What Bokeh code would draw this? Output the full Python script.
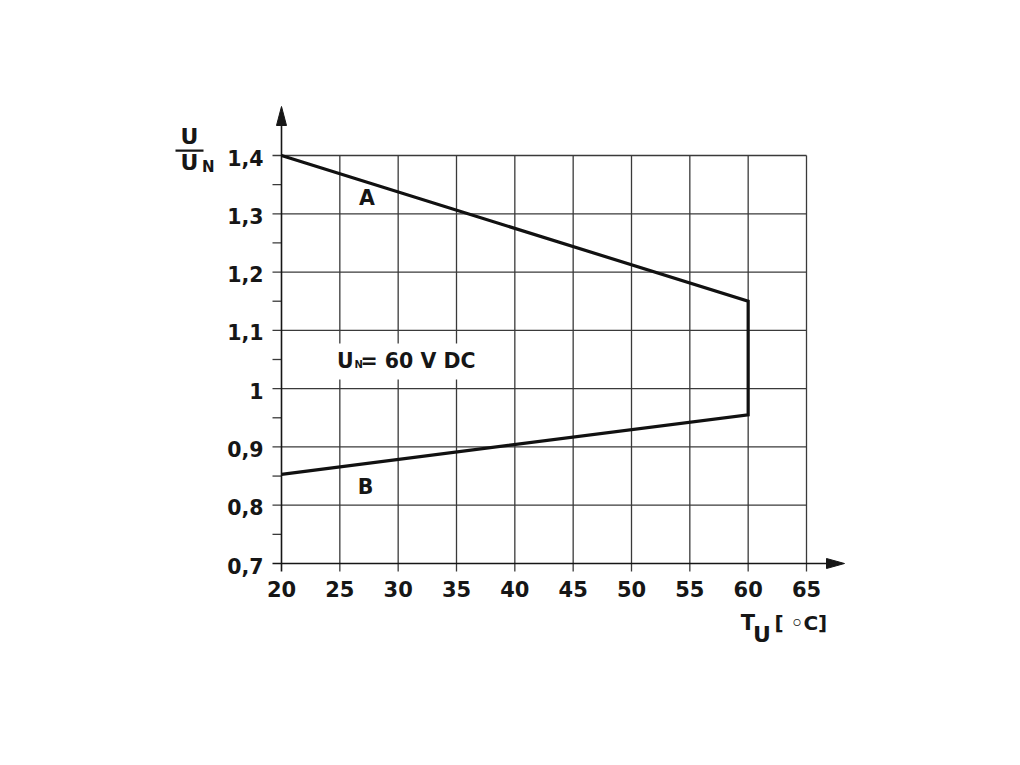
from bokeh.plotting import figure
from bokeh.models import Range1d
from bokeh.core.properties import value
from bokeh.embed import file_html
from bokeh.resources import INLINE

# ---- data ----
x_ticks = [20, 25, 30, 35, 40, 45, 50, 55, 60, 65]
x_tick_labels = ["20", "25", "30", "35", "40", "45", "50", "55", "60", "65"]
y_ticks = [0.7, 0.8, 0.9, 1.0, 1.1, 1.2, 1.3, 1.4]
y_minor = [0.75, 0.85, 0.95, 1.05, 1.15, 1.25, 1.35]
y_tick_labels = ["0,7", "0,8", "0,9", "1", "1,1", "1,2", "1,3", "1,4"]
curve_a_t = [20, 60]
curve_a_u = [1.40, 1.15]
curve_b_t = [20, 60]
curve_b_u = [0.853, 0.955]

FONT = value("DejaVu Sans")
INK = "#161616"
GRID = "#3a3a3a"

W, H = 1004, 749
# pixel geometry of the plot box (canvas pixels)
PX_L, PX_R = 281.0, 806.0        # x = 20 .. 65
PY_T, PY_B = 155.0, 563.0        # y = 1.4 .. 0.7
XMIN, XMAX = min(x_ticks), max(x_ticks)
YMIN, YMAX = min(y_ticks), max(y_ticks)
KX = (PX_R - PX_L) / (XMAX - XMIN)   # px per unit
KY = (PY_B - PY_T) / (YMAX - YMIN)

def X(px):
    return XMIN + (px - PX_L) / KX

def Y(py):
    return YMAX - (py - PY_T) / KY

p = figure(width=W, height=H, output_backend="svg", toolbar_location=None,
           x_range=Range1d(X(0), X(W)), y_range=Range1d(Y(H), Y(0)),
           min_border_left=0, min_border_right=0, min_border_top=0, min_border_bottom=0)
p.outline_line_color = None
p.xaxis.visible = False
p.yaxis.visible = False
p.xgrid.visible = False
p.ygrid.visible = False
p.background_fill_color = "white"
p.border_fill_color = "white"

# grid (vertical lines reach slightly below the x axis, horizontal slightly left of y axis)
p.segment(x0=x_ticks[1:], y0=[Y(PY_B + 8)] * (len(x_ticks) - 1), x1=x_ticks[1:],
          y1=[YMAX] * (len(x_ticks) - 1), line_color=GRID, line_width=1.3)
p.segment(x0=[X(PX_L - 9)] * (len(y_ticks) - 1), y0=y_ticks[1:],
          x1=[XMAX] * (len(y_ticks) - 1), y1=y_ticks[1:], line_color=GRID, line_width=1.3)
# minor ticks on y axis
p.segment(x0=[X(PX_L - 9)] * len(y_minor), y0=y_minor, x1=[XMIN] * len(y_minor), y1=y_minor,
          line_color=GRID, line_width=1.3)

# axes with arrows
p.segment(x0=[X(PX_L - 9)], y0=[YMIN], x1=[X(828)], y1=[YMIN], line_color=INK, line_width=1.6)
p.segment(x0=[XMIN], y0=[Y(PY_B + 8)], x1=[XMIN], y1=[Y(124)], line_color=INK, line_width=1.6)
p.patch(x=[X(826), X(844), X(826)], y=[Y(PY_B - 5), YMIN, Y(PY_B + 5)],
        fill_color=INK, line_color=INK, line_width=1)
p.patch(x=[X(PX_L - 5), XMIN, X(PX_L + 5)], y=[Y(125), Y(106), Y(125)],
        fill_color=INK, line_color=INK, line_width=1)

# curve
bt = curve_a_t + curve_b_t[::-1]
bu = curve_a_u + curve_b_u[::-1]
p.line(bt, bu, line_color="#111111", line_width=3.2, line_join="miter")

# tick labels
p.text(x=x_ticks, y=[Y(588.5)] * len(x_ticks), text=x_tick_labels, text_font=FONT,
       text_font_style="bold", text_font_size="21px", text_color=INK,
       text_align="center", text_baseline="alphabetic")
p.text(x=[X(263)] * len(y_ticks), y=[t - 2.0 / KY for t in y_ticks], text=y_tick_labels,
       text_font=FONT, text_font_style="bold", text_font_size="20.5px", text_color=INK,
       text_align="right", text_baseline="alphabetic")

def lab(px, py, t, size, align="left"):
    p.text(x=[X(px)], y=[Y(py)], text=[t], text_font=FONT, text_font_style="bold",
           text_font_size=size, text_color=INK, text_align=align,
           text_baseline="alphabetic")

# curve names
lab(366.5, 197, "A", "20.5px", "center")
lab(365, 486, "B", "20.5px", "center")

# U_N box
p.quad(left=[X(328)], right=[X(472)], top=[Y(343)], bottom=[Y(379)],
       fill_color="white", line_color=None)
lab(336.5, 360, "U", "20.5px")
lab(354, 364, "N", "10px")
lab(360, 360, "= 60 V DC", "20.5px")

# y-axis title  U / U_N
lab(189, 135.5, "U", "22px", "center")
p.quad(left=[X(175)], right=[X(203)], top=[Y(149)], bottom=[Y(151.3)],
       fill_color=INK, line_color=None)
lab(189, 161.5, "U", "22px", "center")
lab(201.5, 166.5, "N", "15px")

# x-axis title  T_U [°C]
lab(747.5, 622.5, "T", "21px", "center")
lab(761.5, 633.5, "U", "22px", "center")
lab(774, 622.5, "[ \u25e6C]", "20px")

open("out.html", "w").write(file_html(p, INLINE))
